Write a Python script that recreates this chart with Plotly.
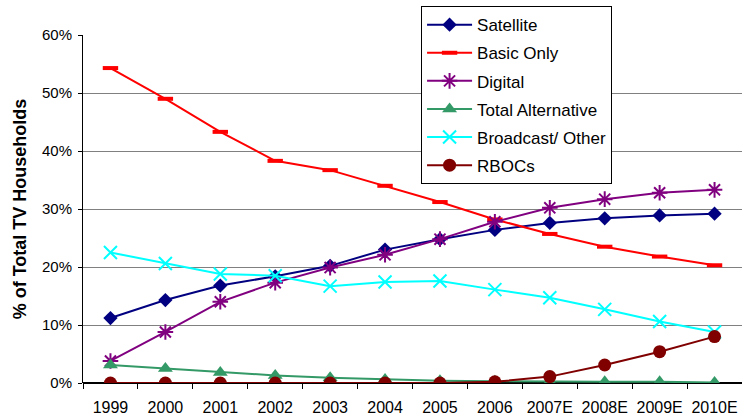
import plotly.graph_objects as go

years = ["1999", "2000", "2001", "2002", "2003", "2004", "2005", "2006",
         "2007E", "2008E", "2009E", "2010E"]

satellite = [11.2, 14.3, 16.8, 18.4, 20.2, 23.0, 24.8, 26.4, 27.6, 28.4, 28.9, 29.2]
basic_only = [54.3, 49.0, 43.3, 38.3, 36.7, 34.0, 31.2, 28.2, 25.7, 23.5, 21.8, 20.3]
digital = [3.8, 8.8, 14.0, 17.3, 19.9, 22.1, 24.8, 27.8, 30.2, 31.7, 32.8, 33.3]
total_alt = [3.1, 2.5, 1.8, 1.3, 0.9, 0.6, 0.4, 0.3, 0.2, 0.2, 0.2, 0.1]
broadcast = [22.5, 20.6, 18.8, 18.5, 16.7, 17.4, 17.6, 16.1, 14.7, 12.7, 10.6, 8.8]
rbocs = [0.0, 0.0, 0.0, 0.0, 0.0, 0.0, 0.0, 0.2, 1.1, 3.1, 5.4, 8.0]

series = [
    ("Satellite", satellite, "#000080", dict(symbol="diamond", size=11, color="#000080")),
    ("Basic Only", basic_only, "#FF0000",
     dict(symbol="line-ew-open", size=11, color="#FF0000", line=dict(width=4, color="#FF0000"))),
    ("Digital", digital, "#800080",
     dict(symbol="asterisk-open", size=13, color="#800080", line=dict(width=2, color="#800080"))),
    ("Total Alternative", total_alt, "#339966", dict(symbol="triangle-up", size=13, color="#339966")),
    ("Broadcast/ Other", broadcast, "#00FFFF",
     dict(symbol="x-thin-open", size=13, color="#00FFFF", line=dict(width=2, color="#00FFFF"))),
    ("RBOCs", rbocs, "#800000", dict(symbol="circle", size=13, color="#800000")),
]

fig = go.Figure()
for name, vals, col, marker in series:
    fig.add_trace(go.Scatter(
        x=years, y=[v / 100 for v in vals], name=name, mode="lines+markers",
        legendgroup=name,
        line=dict(color=col, width=2), marker=marker,
    ))

fig.update_layout(
    width=742, height=419,
    margin=dict(l=83, r=0, t=35, b=36, autoexpand=False),
    paper_bgcolor="white", plot_bgcolor="white",
    font=dict(family="Liberation Sans, Arial, sans-serif", size=15, color="black"),
    showlegend=True,
    legend=dict(
        x=0.513, y=1.083, xanchor="left", yanchor="top",
        bgcolor="white", bordercolor="black", borderwidth=1,
        font=dict(size=17), tracegroupgap=3, itemwidth=45,
    ),
    xaxis=dict(
        type="category", tickson="boundaries", ticks="outside", ticklen=5,
        tickcolor="black", showgrid=False, showline=False, zeroline=False,
        range=[-0.5, 11.5], ticklabelstandoff=13, tickfont=dict(size=16),
        tickangle=0, automargin=False,
    ),
    yaxis=dict(
        range=[0, 0.6], dtick=0.1, tickformat=".0%", ticks="outside", ticklen=4,
        tickcolor="black", showgrid=True, gridcolor="#808080", gridwidth=1,
        showline=True, linecolor="black", linewidth=1, zeroline=True,
        zerolinecolor="black", zerolinewidth=2, ticklabelstandoff=3,
        automargin=False,
        title=dict(text="<b>% of Total TV Households</b>", standoff=10),
    ),
)

fig.write_html("out.html")
